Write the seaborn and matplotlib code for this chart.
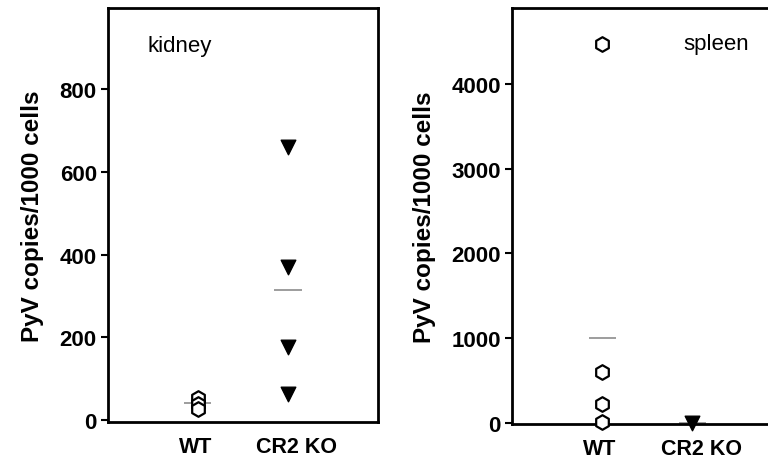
import numpy as np
import pandas as pd
import matplotlib
matplotlib.use("Agg")
import matplotlib.pyplot as plt
import matplotlib.transforms as mtransforms
import seaborn as sns

# === data ===
groups = ["WT", "CR2 KO"]

kidney_wt = [53, 40, 28]
kidney_ko = [660, 370, 177, 64]
kidney_means = [43, 314]

spleen_wt = [4470, 603, 229, 10]
spleen_ko = [5]
spleen_means = [1005, 0]

sns.set_style("ticks")
plt.rcParams["font.family"] = ["Liberation Sans", "DejaVu Sans"]
plt.rcParams["text.color"] = "black"
plt.rcParams["axes.labelcolor"] = "black"
plt.rcParams["xtick.color"] = "black"
plt.rcParams["ytick.color"] = "black"

fig = plt.figure(figsize=(7.68, 4.64), dpi=100)
ax1 = fig.add_axes([0.1406, 0.0884, 0.3516, 0.8922])
ax2 = fig.add_axes([0.6667, 0.0840, 0.3516, 0.8966])


def panel(ax, wt, ko, means, ylim, yticks, name, name_xy):
    df = pd.DataFrame({
        "group": ["WT"] * len(wt) + ["CR2 KO"] * len(ko),
        "value": wt + ko,
    })
    # open hexagons for WT, filled triangles for CR2 KO
    sns.stripplot(data=df[df["group"] == "WT"], x="group", y="value",
                  order=groups, jitter=False, marker="h", s=10.5,
                  color="white", edgecolor="black", linewidth=1.6,
                  ax=ax, zorder=3, clip_on=False)
    sns.stripplot(data=df[df["group"] == "CR2 KO"], x="group", y="value",
                  order=groups, jitter=False, marker="v", s=10.5,
                  color="black", edgecolor="black", linewidth=1,
                  ax=ax, zorder=3, clip_on=False)
    for i, m in enumerate(means):
        ax.hlines(m, i - 0.15, i + 0.15, color="#8c8c8c", lw=1.2, zorder=2)

    ax.set_xlim(-1, 2)
    ax.set_ylim(*ylim)
    ax.set_yticks(yticks)
    ax.set_xlabel("")
    ax.set_ylabel("PyV copies/1000 cells", fontsize=17.5, fontweight="bold",
                  labelpad=11)
    for sp in ax.spines.values():
        sp.set_visible(True)
        sp.set_linewidth(2)
        sp.set_color("black")
    ax.tick_params(axis="y", direction="out", length=5, width=1.5,
                   labelsize=16, pad=3)
    ax.tick_params(axis="x", length=0, labelsize=15.5, pad=10)
    for lbl in ax.get_xticklabels() + ax.get_yticklabels():
        lbl.set_fontweight("bold")
    # the CR2 KO label sits a little right of its marks in the original
    xl = ax.get_xticklabels()
    xl[1].set_transform(xl[1].get_transform() + mtransforms.ScaledTranslation(
        9 / 100, 0, fig.dpi_scale_trans))
    xl[0].set_transform(xl[0].get_transform() + mtransforms.ScaledTranslation(
        -2 / 100, 0, fig.dpi_scale_trans))
    ax.text(name_xy[0], name_xy[1], name, transform=ax.transAxes,
            fontsize=16, ha="left", va="center")


panel(ax1, kidney_wt, kidney_ko, kidney_means, (-4, 995),
      [0, 200, 400, 600, 800], "kidney", (0.145, 0.91))
panel(ax2, spleen_wt, spleen_ko, spleen_means, (-8, 4890),
      [0, 1000, 2000, 3000, 4000], "spleen", (0.635, 0.915))

fig.savefig("out.png", dpi=100)
